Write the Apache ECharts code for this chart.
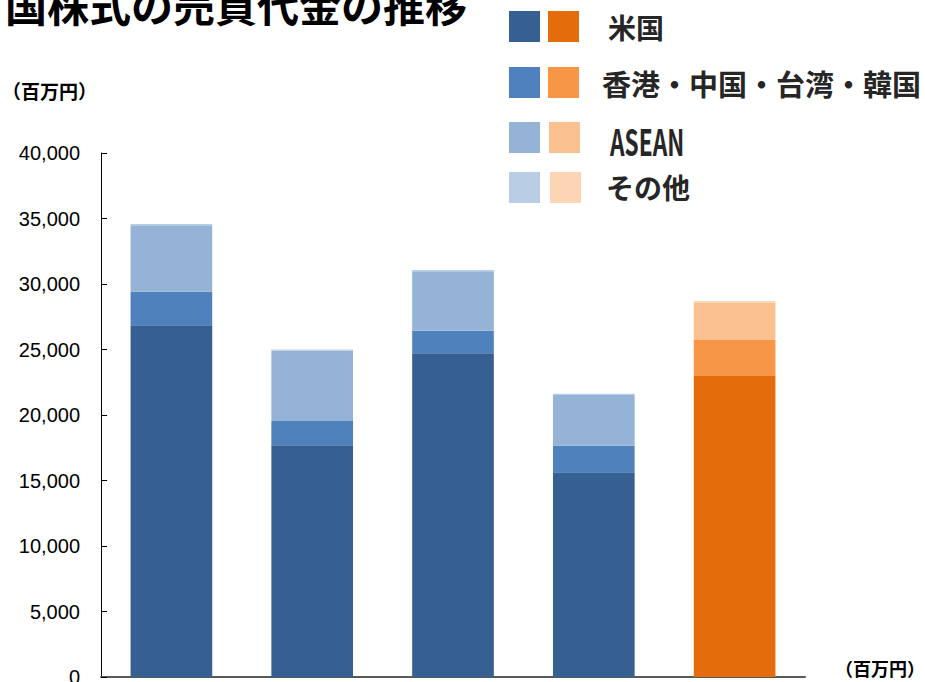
<!DOCTYPE html>
<html>
<head>
<meta charset="utf-8">
<script src="https://cdn.jsdelivr.net/npm/echarts@6/dist/echarts.min.js"></script>
<style>
html,body{margin:0;padding:0;background:#fff;}
#c{width:925px;height:682px;}
</style>
</head>
<body>
<div id="c"></div>
<script>
// ---- data ----
const categories = ['1', '2', '3', '4', '5'];
const seriesNames = ['米国', '香港・中国・台湾・韓国', 'ASEAN', 'その他'];
const usValues    = [26850, 17690, 24710, 15630, 22980];
const hkValues    = [2560, 1850, 1730, 2030, 2750];
const aseanValues = [5070, 5370, 4530, 3870, 2845];
const otherValues = [100, 90, 100, 100, 130];
const yTicks = [0, 5000, 10000, 15000, 20000, 25000, 30000, 35000, 40000];

const blueColors   = ['#366092', '#4F81BD', '#95B3D7', '#B9CDE5'];
const orangeColors = ['#E46C0A', '#F79646', '#FAC090', '#FCD5B5'];
const highlightIndex = 4;

const allValues = [usValues, hkValues, aseanValues, otherValues];

const chart = echarts.init(document.getElementById('c'), null, {renderer: 'svg'});

const series = seriesNames.map((name, si) => ({
  name: name,
  type: 'bar',
  stack: 'total',
  barCategoryGap: '42%',
  itemStyle: {color: blueColors[si]},
  data: allValues[si].map((v, i) => i === highlightIndex
    ? {value: v, itemStyle: {color: orangeColors[si]}}
    : v)
}));

// legend drawn as graphic (double swatches)
const legendRows = [
  {y: 11, tx: 608, ty: 27, size: 28},
  {y: 67, tx: 602, ty: 83, size: 29},
  {y: 122, tx: 610, ty: 140, size: 28},
  {y: 172, tx: 606, ty: 187, size: 28}
];
const legendGraphics = [];
seriesNames.forEach((name, i) => {
  const r = legendRows[i];
  legendGraphics.push({type: 'rect', left: 509, top: r.y, shape: {width: 31, height: 31}, style: {fill: blueColors[i]}});
  legendGraphics.push({type: 'rect', left: 548 + (i >= 2 ? i - 1 : 0), top: r.y, shape: {width: 31, height: 31}, style: {fill: orangeColors[i]}});
  if (name === 'ASEAN') {
    legendGraphics.push({type: 'text', x: r.tx, y: r.ty, scaleX: 0.63,
      style: {text: name, font: 'bold 36px "Noto Sans CJK JP"', fill: '#262626', textVerticalAlign: 'middle', textAlign: 'left'}});
  } else {
    legendGraphics.push({type: 'text', x: r.tx, y: r.ty,
      style: {text: name, font: 'bold ' + r.size + 'px "Noto Sans CJK JP"', fill: '#262626', textVerticalAlign: 'middle', textAlign: 'left'}});
  }
});

chart.setOption({
  animation: false,
  backgroundColor: '#fff',
  title: {
    text: '国株式の売買代金の推移',
    left: 0, top: -23,
    textStyle: {fontSize: 42, fontWeight: 'bold', fontFamily: 'Noto Sans CJK JP', color: '#000'}
  },
  grid: {left: 101, right: 120, top: 153, bottom: 5, containLabel: false, outerBoundsMode: 'none'},
  xAxis: {
    type: 'category',
    data: categories,
    name: '（百万円）',
    nameLocation: 'end',
    nameGap: 30,
    nameTextStyle: {fontSize: 18, fontWeight: 'bold', fontFamily: 'Noto Sans CJK JP', color: '#000', verticalAlign: 'bottom'},
    axisLine: {lineStyle: {color: '#595959', width: 2}},
    axisTick: {show: false},
    axisLabel: {show: false}
  },
  yAxis: {
    type: 'value',
    min: yTicks[0], max: yTicks[yTicks.length - 1], interval: yTicks[1] - yTicks[0],
    name: '（百万円）',
    nameLocation: 'end',
    nameGap: 53,
    nameTextStyle: {fontSize: 19, fontWeight: 'bold', fontFamily: 'Noto Sans CJK JP', color: '#000', align: 'right', padding: [0, 4, 0, 0]},
    axisLine: {show: true, lineStyle: {color: '#000', width: 1}},
    axisTick: {show: true, inside: true, length: 6, lineStyle: {color: '#000'}},
    splitLine: {show: false},
    axisLabel: {
      fontSize: 20, fontFamily: 'Liberation Sans', color: '#000', margin: 21,
      formatter: v => v.toLocaleString('en-US')
    }
  },
  series: series,
  graphic: legendGraphics
});
</script>
</body>
</html>
